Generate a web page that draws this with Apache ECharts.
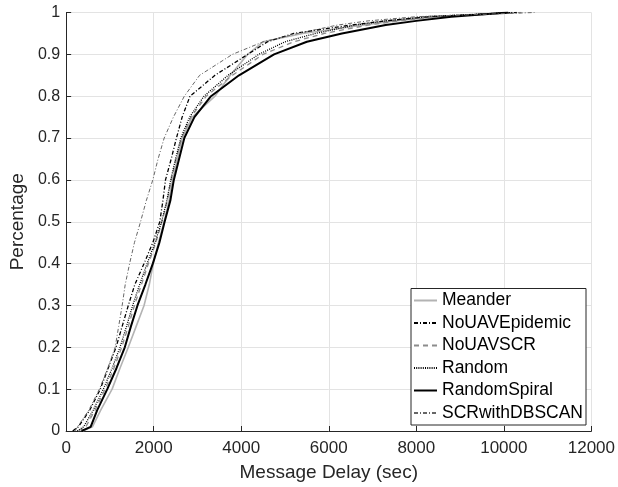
<!DOCTYPE html>
<html>
<head>
<meta charset="utf-8">
<script src="https://cdn.jsdelivr.net/npm/echarts@6/dist/echarts.min.js"></script>
<style>html,body{margin:0;padding:0;background:#fff}#c{width:618px;height:487px}</style>
</head>
<body>
<div id="c"></div>
<script>
// CDF levels (y values) shared by all series
const levels = [0, 0.01, 0.05, 0.1, 0.15, 0.2, 0.25, 0.3, 0.35, 0.4, 0.45, 0.5, 0.55, 0.6, 0.65, 0.7, 0.75, 0.8, 0.85, 0.9, 0.93, 0.95, 0.97, 0.98, 0.99, 1.0];
// Message delay (x) at each level, per series
const meanderX       = [380, 600, 790, 1050, 1230, 1420, 1600, 1780, 1900, 1990, 2110, 2240, 2350, 2430, 2540, 2650, 2880, 3400, 3750, 4150, 4500, 5400, 6800, 7500, 8500, 10200];
const noUAVEpidemicX = [150, 280, 540, 780, 960, 1140, 1280, 1420, 1570, 1780, 1980, 2140, 2210, 2270, 2400, 2520, 2650, 2830, 3400, 4150, 4600, 5200, 6500, 7300, 8300, 10300];
const noUAVSCRX      = [280, 450, 660, 890, 1090, 1270, 1420, 1560, 1720, 1880, 2050, 2190, 2310, 2400, 2510, 2640, 2850, 3200, 3800, 4500, 5200, 5900, 6900, 7600, 8500, 10400];
const randomX        = [250, 400, 620, 850, 1050, 1230, 1380, 1520, 1680, 1850, 2030, 2180, 2300, 2390, 2500, 2620, 2820, 3150, 3700, 4400, 5000, 5700, 6600, 7300, 8200, 10200];
const randomSpiralX  = [350, 560, 710, 940, 1150, 1340, 1480, 1630, 1810, 1980, 2130, 2250, 2380, 2460, 2580, 2700, 2930, 3310, 3950, 4750, 5500, 6300, 7300, 8000, 8800, 10100];
const scrDBSCANX     = [200, 260, 520, 760, 950, 1120, 1200, 1280, 1350, 1450, 1560, 1700, 1830, 1980, 2100, 2240, 2450, 2700, 3050, 3800, 4500, 5300, 6200, 6900, 8000, 10700];
const seriesNames = ['Meander', 'NoUAVEpidemic', 'NoUAVSCR', 'Random', 'RandomSpiral', 'SCRwithDBSCAN'];
const xTicks = [0, 2000, 4000, 6000, 8000, 10000, 12000];

const xs = [meanderX, noUAVEpidemicX, noUAVSCRX, randomX, randomSpiralX, scrDBSCANX];
const styles = [
  {color: '#b3b3b3', width: 1.6, type: 'solid'},
  {color: '#000000', width: 1.3, type: [4, 2, 1, 2]},
  {color: '#8c8c8c', width: 1.3, type: [5, 4]},
  {color: '#000000', width: 1.3, type: [1, 1.2]},
  {color: '#000000', width: 2.0, type: 'solid'},
  {color: '#666666', width: 1.0, type: [4, 2, 1, 2]}
];
const FONT = 'Liberation Sans, Arial, Helvetica, sans-serif';
const chart = echarts.init(document.getElementById('c'), null, {renderer: 'canvas'});
chart.setOption({
  animation: false,
  backgroundColor: '#ffffff',
  grid: {left: 60.5, right: 26.5, top: 12.5, bottom: 55.5, containLabel: false},
  xAxis: {
    type: 'value', min: xTicks[0], max: xTicks[xTicks.length - 1], interval: 2000,
    name: 'Message Delay (sec)', nameLocation: 'middle', nameGap: 32,
    nameTextStyle: {fontFamily: FONT, fontSize: 19, color: '#262626'},
    axisLine: {lineStyle: {color: '#262626', width: 1}},
    axisTick: {inside: true, length: 5, lineStyle: {color: '#262626'}},
    axisLabel: {fontFamily: FONT, fontSize: 17, color: '#262626', margin: 9, formatter: v => String(v)},
    splitLine: {show: true, lineStyle: {color: '#e3e3e3', width: 1}}
  },
  yAxis: {
    type: 'value', min: 0, max: 1, interval: 0.1,
    name: 'Percentage', nameLocation: 'middle', nameGap: 34,
    nameTextStyle: {fontFamily: FONT, fontSize: 19, color: '#262626'},
    axisLine: {show: true, lineStyle: {color: '#262626', width: 1}},
    axisTick: {show: true, inside: true, length: 5, lineStyle: {color: '#262626'}},
    axisLabel: {fontFamily: FONT, fontSize: 16, color: '#262626', margin: 6},
    splitLine: {show: true, lineStyle: {color: '#e3e3e3', width: 1}}
  },
  legend: {
    orient: 'vertical', right: 32, bottom: 62,
    backgroundColor: '#ffffff', borderColor: '#262626', borderWidth: 1,
    padding: [3, 3, 3, 2], itemGap: 4.5, itemWidth: 23, itemHeight: 18,
    itemStyle: {opacity: 0},
    textStyle: {fontFamily: FONT, fontSize: 17.5, color: '#000', lineHeight: 18},
    data: seriesNames
  },
  series: seriesNames.map((n, i) => ({
    name: n, type: 'line', symbol: 'none', smooth: false,
    lineStyle: styles[i], itemStyle: {color: styles[i].color},
    data: levels.map((p, j) => [xs[i][j], p])
  }))
});
</script>
</body>
</html>
